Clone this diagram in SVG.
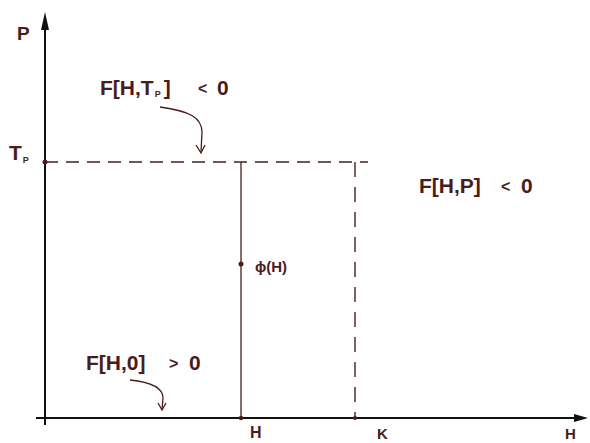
<svg xmlns="http://www.w3.org/2000/svg" width="590" height="443" viewBox="0 0 590 443">
<style>
.axis{stroke:#111;stroke-width:2;fill:none}
.ln{stroke:#4a1c1c;stroke-width:1.3;fill:none}
.dash{stroke:#4a1c1c;stroke-width:1.4;fill:none;stroke-dasharray:13 8}
.dot{fill:#4a1c1c}
text{font-family:"Comic Sans MS","Liberation Sans",sans-serif;font-weight:bold;fill:#4a1c1c}
.lbl{font-size:21px}
.sm{font-size:15px}
.sub{font-size:9px}
</style>
<rect width="590" height="443" fill="#fff"/>
<g id="axes">
<line class="axis" x1="45" y1="26" x2="45" y2="425"/>
<polygon points="45,12 41,30 49,30" fill="#111"/>
<line class="axis" x1="36" y1="418" x2="576" y2="418"/>
<polygon points="588,418 574,414 574,422" fill="#111"/>
</g>
<g id="connectors">
<line class="dash" x1="45" y1="162" x2="368" y2="162"/>
<line class="dash" x1="355" y1="162" x2="355" y2="418" style="stroke-dasharray:15 10"/>
<line class="ln" x1="241" y1="162" x2="241" y2="418"/>
<path class="ln" d="M160,107 C190,111 202,118 202,132 L201,152"/>
<path class="ln" d="M196,145 L201,153 L205,145"/>
<path class="ln" d="M130,380 C150,382 163,388 163,398 L162,410"/>
<path class="ln" d="M158,403 L162,410 L166,403"/>
</g>
<g id="points">
<circle class="dot" cx="45" cy="162" r="2.5"/>
<circle class="dot" cx="241" cy="264" r="2.5"/>
<circle class="dot" cx="241" cy="418" r="2.2"/>
<circle class="dot" cx="355" cy="418" r="2"/>
</g>
<g id="labels">
<text class="lbl" x="17" y="40" style="font-size:19px">P</text>
<text class="lbl" x="9" y="160">T<tspan class="sub" dx="1" dy="3">P</tspan></text>
<text class="lbl" x="100" y="95">F[H,T<tspan class="sub" dx="1" dy="2">P</tspan><tspan dx="3" dy="-2">]</tspan></text>
<text class="lbl" x="198" y="94" style="font-size:16px">&lt;</text>
<text class="lbl" x="217" y="95">0</text>
<text class="lbl" x="419" y="193">F[H,P]</text>
<text class="lbl" x="501" y="192" style="font-size:16px">&lt;</text>
<text class="lbl" x="521" y="193">0</text>
<text class="lbl" x="86" y="370">F[H,0]</text>
<text class="lbl" x="169" y="369" style="font-size:16px">&gt;</text>
<text class="lbl" x="189" y="370">0</text>
<text class="sm" x="255" y="272">ϕ(H)</text>
<text class="sm" x="250" y="438" style="font-size:16px">H</text>
<text class="lbl" x="377" y="439" style="font-size:15px">K</text>
<text class="lbl" x="565" y="439" style="font-size:15px">H</text>
</g>
</svg>
